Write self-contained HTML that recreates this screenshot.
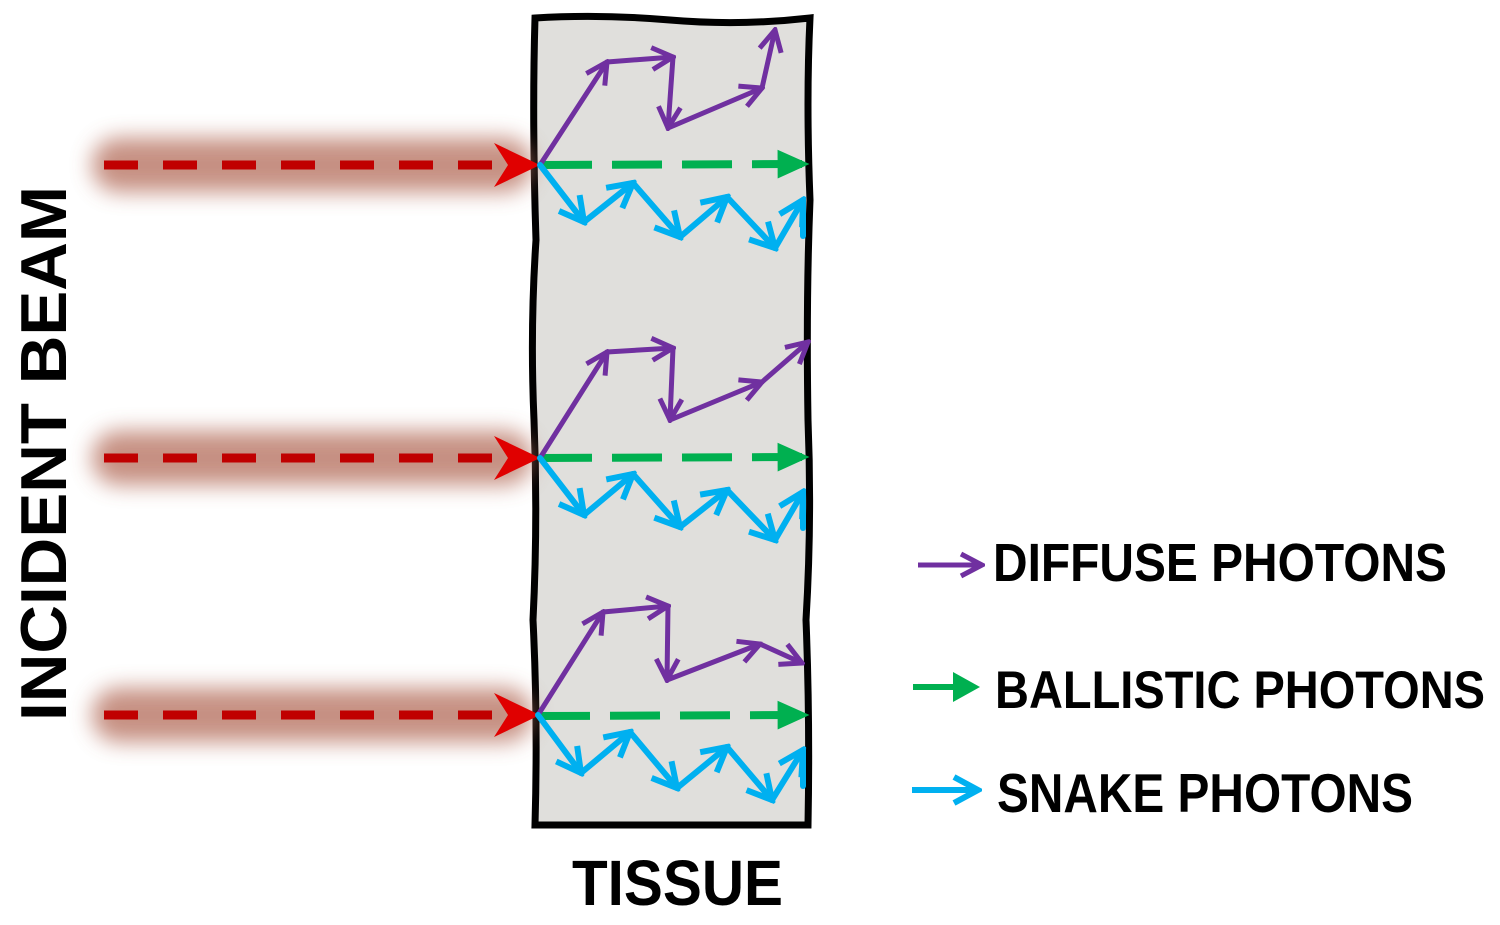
<!DOCTYPE html>
<html><head><meta charset="utf-8"><style>
html,body{margin:0;padding:0;background:#fff;width:1500px;height:925px;overflow:hidden}
</style></head><body>
<svg width="1500" height="925" viewBox="0 0 1500 925" xmlns="http://www.w3.org/2000/svg">
<defs>
<filter id="blur" x="-20%" y="-100%" width="140%" height="300%"><feGaussianBlur stdDeviation="11"/></filter>
<marker id="mp" viewBox="0 0 30 30" refX="27" refY="15" markerWidth="30" markerHeight="30" markerUnits="userSpaceOnUse" orient="auto"><polyline points="6,4 27,15 6,26" fill="none" stroke="#7030a0" stroke-width="5"/></marker>
<marker id="mb" viewBox="0 0 34 34" refX="30" refY="17" markerWidth="34" markerHeight="34" markerUnits="userSpaceOnUse" orient="auto"><polyline points="6,4 30,17 6,30" fill="none" stroke="#00b0f0" stroke-width="6"/></marker>
<marker id="mg" viewBox="0 0 20 20" refX="19" refY="10" markerWidth="32" markerHeight="32" markerUnits="userSpaceOnUse" orient="auto"><polygon points="0,1 20,10 0,19" fill="#00b050"/></marker>
</defs>

<!-- tissue -->
<path d="M535,18 Q600,14 670,20 T810,18 Q806,100 810,200 Q806,300 808,420 Q812,520 806,620 Q810,720 808,825 L535,825 Q538,720 533,620 Q538,520 534,420 Q530,330 536,240 Q532,120 535,18 Z" fill="#e0dfdc" stroke="#000" stroke-width="7"/>

<!-- beams -->
<g>
<rect x="92" y="138" width="440" height="54" rx="27" fill="#b87563" opacity="0.8" filter="url(#blur)"/>
<rect x="92" y="431" width="440" height="54" rx="27" fill="#b87563" opacity="0.8" filter="url(#blur)"/>
<rect x="92" y="688" width="440" height="54" rx="27" fill="#b87563" opacity="0.8" filter="url(#blur)"/>
<g stroke="#c00000" stroke-width="9" stroke-dasharray="34 25" fill="none">
<line x1="104" y1="165" x2="495" y2="165"/>
<line x1="104" y1="458" x2="495" y2="458"/>
<line x1="104" y1="715" x2="495" y2="715"/>
</g>
<g fill="#e00000">
<polygon points="540,165 494,143 508,165 494,187"/>
<polygon points="540,458 494,436 508,458 494,480"/>
<polygon points="540,715 494,693 508,715 494,737"/>
</g>
</g>

<!-- green -->
<g stroke="#00b050" stroke-width="8" stroke-dasharray="50 20" fill="none">
<line x1="542" y1="165" x2="808" y2="164" marker-end="url(#mg)"/>
<line x1="542" y1="458" x2="808" y2="457" marker-end="url(#mg)"/>
<line x1="540" y1="716" x2="808" y2="715" marker-end="url(#mg)"/>
</g>

<!-- purple -->
<g stroke="#7030a0" stroke-width="5" fill="none" stroke-linecap="round">
<line x1="540" y1="165" x2="607" y2="62" marker-end="url(#mp)"/>
<line x1="607" y1="62" x2="673" y2="57" marker-end="url(#mp)"/>
<line x1="673" y1="57" x2="668" y2="128" marker-end="url(#mp)"/>
<line x1="668" y1="128" x2="762" y2="88" marker-end="url(#mp)"/>
<line x1="762" y1="88" x2="775" y2="30" marker-end="url(#mp)"/>

<line x1="540" y1="458" x2="607" y2="352" marker-end="url(#mp)"/>
<line x1="607" y1="352" x2="673" y2="348" marker-end="url(#mp)"/>
<line x1="673" y1="348" x2="670" y2="420" marker-end="url(#mp)"/>
<line x1="670" y1="420" x2="762" y2="382" marker-end="url(#mp)"/>
<line x1="762" y1="382" x2="808" y2="342" marker-end="url(#mp)"/>

<line x1="538" y1="715" x2="603" y2="612" marker-end="url(#mp)"/>
<line x1="603" y1="612" x2="668" y2="606" marker-end="url(#mp)"/>
<line x1="668" y1="606" x2="667" y2="680" marker-end="url(#mp)"/>
<line x1="667" y1="680" x2="760" y2="644" marker-end="url(#mp)"/>
<line x1="760" y1="644" x2="802" y2="663" marker-end="url(#mp)"/>
</g>

<!-- blue -->
<g stroke="#00b0f0" stroke-width="6" fill="none" stroke-linecap="round">
<line x1="540" y1="165" x2="584" y2="222" marker-end="url(#mb)"/>
<line x1="584" y1="222" x2="633" y2="183" marker-end="url(#mb)"/>
<line x1="633" y1="183" x2="680" y2="237" marker-end="url(#mb)"/>
<line x1="680" y1="237" x2="727" y2="197" marker-end="url(#mb)"/>
<line x1="727" y1="197" x2="775" y2="248" marker-end="url(#mb)"/>
<line x1="775" y1="248" x2="803" y2="200" marker-end="url(#mb)"/>
<line x1="803" y1="200" x2="803" y2="236"/>

<line x1="540" y1="458" x2="584" y2="515" marker-end="url(#mb)"/>
<line x1="584" y1="515" x2="633" y2="474" marker-end="url(#mb)"/>
<line x1="633" y1="474" x2="680" y2="527" marker-end="url(#mb)"/>
<line x1="680" y1="527" x2="727" y2="490" marker-end="url(#mb)"/>
<line x1="727" y1="490" x2="775" y2="540" marker-end="url(#mb)"/>
<line x1="775" y1="540" x2="803" y2="492" marker-end="url(#mb)"/>
<line x1="803" y1="492" x2="803" y2="528"/>

<line x1="538" y1="715" x2="581" y2="773" marker-end="url(#mb)"/>
<line x1="581" y1="773" x2="630" y2="732" marker-end="url(#mb)"/>
<line x1="630" y1="732" x2="677" y2="788" marker-end="url(#mb)"/>
<line x1="677" y1="788" x2="727" y2="747" marker-end="url(#mb)"/>
<line x1="727" y1="747" x2="772" y2="800" marker-end="url(#mb)"/>
<line x1="772" y1="800" x2="803" y2="750" marker-end="url(#mb)"/>
<line x1="803" y1="750" x2="803" y2="786"/>
</g>

<!-- legend arrows -->
<line x1="918" y1="565" x2="982" y2="565" stroke="#7030a0" stroke-width="5" marker-end="url(#mp)"/>
<line x1="913" y1="687" x2="965" y2="687" stroke="#00b050" stroke-width="6"/>
<polygon points="953,672 980,687 953,702" fill="#00b050"/>
<line x1="912" y1="790" x2="978" y2="790" stroke="#00b0f0" stroke-width="6" marker-end="url(#mb)"/>

<g font-family="Liberation Sans, sans-serif" font-weight="bold" fill="#000">
<text x="993" y="581" font-size="54" textLength="454" lengthAdjust="spacingAndGlyphs">DIFFUSE PHOTONS</text>
<text x="995" y="708" font-size="53" textLength="490" lengthAdjust="spacingAndGlyphs">BALLISTIC PHOTONS</text>
<text x="997" y="812" font-size="55" textLength="416" lengthAdjust="spacingAndGlyphs">SNAKE PHOTONS</text>
<text x="572" y="905" font-size="64" textLength="211" lengthAdjust="spacingAndGlyphs">TISSUE</text>
<text transform="translate(66,721) rotate(-90)" font-size="65" textLength="535" lengthAdjust="spacingAndGlyphs">INCIDENT BEAM</text>
</g>
</svg>
</body></html>
